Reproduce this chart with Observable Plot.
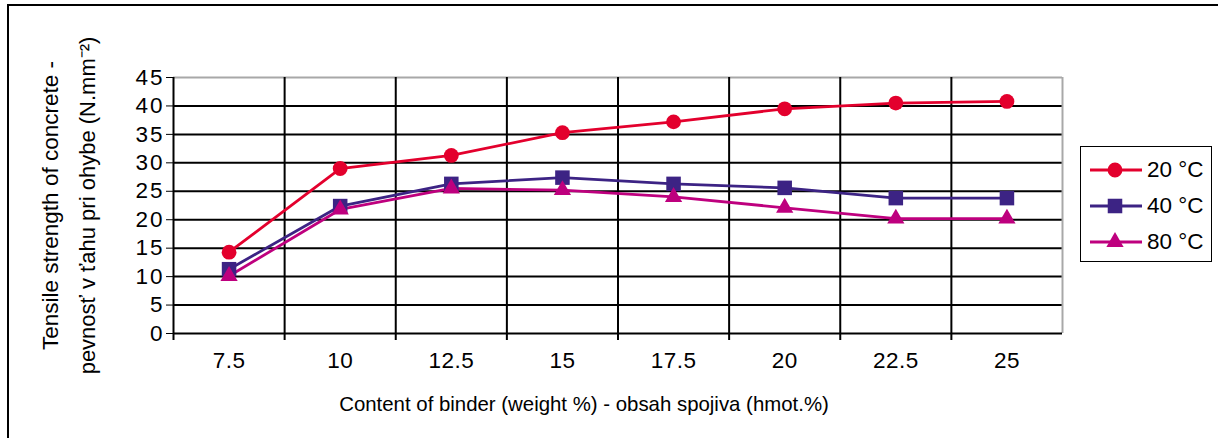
<!DOCTYPE html>
<html>
<head>
<meta charset="utf-8">
<script src="https://cdn.jsdelivr.net/npm/d3@7"></script>
<script src="https://cdn.jsdelivr.net/npm/@observablehq/plot@0.6"></script>
<style>
  body { margin: 0; background: #fff; }
  #wrap { position: relative; width: 1218px; height: 438px; overflow: hidden; font-family: "Liberation Sans", Arial, sans-serif; }
  #border { position: absolute; left: 7px; top: 4px; width: 1300px; height: 600px; border-top: 2px solid #000; border-left: 2px solid #000; }
  #legend { position: absolute; left: 1080px; top: 146px; width: 130px; height: 114px; border: 1.5px solid #000; background: #fff; }
  .row { position: absolute; left: 9px; height: 26px; display: flex; align-items: center; font-size: 22.5px; }
  .row svg { margin-right: 5px; }
  svg.plot { position: absolute; left: 0; top: 0; overflow: visible; }
</style>
</head>
<body>
<div id="wrap"><div id="border"></div></div>
<script>
const binder = [7.5, 10, 12.5, 15, 17.5, 20, 22.5, 25];
const s20 = [14.3, 29.0, 31.3, 35.3, 37.2, 39.5, 40.5, 40.8];
const s40 = [11.3, 22.4, 26.3, 27.4, 26.3, 25.6, 23.8, 23.8];
const s80 = [10.1, 21.8, 25.5, 25.2, 24.0, 22.1, 20.2, 20.2];
const seriesNames = ["20 °C", "40 °C", "80 °C"];
const colors = ["#e3002d", "#3c2384", "#be007e"];
const symbols = ["circle", "square", "triangle"];
const yTicks = [0, 5, 10, 15, 20, 25, 30, 35, 40, 45];
const yTitle1 = "Tensile strength of concrete -";
const yTitle2 = "pevnosť v ťahu pri ohybe (N.mm⁻²)";
const xTitle = "Content of binder (weight %) - obsah spojiva (hmot.%)";

const step = binder[1] - binder[0];
const xDomain = [binder[0] - step / 2, binder[binder.length - 1] + step / 2];
const bounds = binder.slice(1).map((v, i) => (v + binder[i]) / 2);

const rows = [];
[s20, s40, s80].forEach((s, k) => s.forEach((v, i) => rows.push({series: seriesNames[k], x: binder[i], y: v})));
const bySeries = name => rows.filter(d => d.series === name);

const rSizes = [7.4, 8.2, 6.4];

const marks = [
  Plot.ruleY(yTicks.filter(v => v > 0 && v < 45), {stroke: "#000", strokeWidth: 2}),
  Plot.ruleY([45], {stroke: "#a8a8a8", strokeWidth: 2}),
  Plot.ruleX([xDomain[1]], {stroke: "#a8a8a8", strokeWidth: 2}),
  Plot.ruleX(bounds, {stroke: "#000", strokeWidth: 2, insetBottom: -7}),
  Plot.ruleX([xDomain[0]], {stroke: "#000", strokeWidth: 2, insetBottom: -7}),
  Plot.ruleY([0], {stroke: "#000", strokeWidth: 2}),
  Plot.text(binder, {x: d => d, text: d => String(d), frameAnchor: "bottom", dy: 34, fontSize: 22.5}),
  Plot.text([xTitle], {text: d => d, frameAnchor: "bottom", dx: -34, dy: 77, fontSize: 20.4}),
  Plot.text([yTitle1], {text: d => d, frameAnchor: "left", textAnchor: "middle", dx: -123, rotate: -90, fontSize: 22.5}),
  Plot.text([yTitle2], {text: d => d, frameAnchor: "left", textAnchor: "middle", dx: -86, rotate: -90, fontSize: 22})
];
seriesNames.forEach((name, k) => {
  marks.push(Plot.line(bySeries(name), {x: "x", y: "y", stroke: colors[k], strokeWidth: 2.8}));
});
seriesNames.forEach((name, k) => {
  marks.push(Plot.dot(bySeries(name), {x: "x", y: "y", fill: colors[k], r: rSizes[k], symbol: symbols[k], stroke: "none"}));
});

const chart = Plot.plot({
  width: 1218,
  height: 438,
  marginLeft: 173,
  marginRight: 156,
  marginTop: 77,
  marginBottom: 105,
  style: {fontSize: "22.5px", fontFamily: "Liberation Sans, Arial, sans-serif", color: "#000", background: "transparent"},
  x: {domain: xDomain, axis: null},
  y: {domain: [0, 45], ticks: yTicks, tickSize: 7, tickPadding: 2, label: null, tickFormat: d => String(d)},
  marks
});
chart.classList.add("plot");
const yLabels = new Set(yTicks.map(String));
chart.querySelectorAll("text").forEach(t => {
  const s = t.textContent.trim();
  if (s.length > 4) return;
  const anchor = t.getAttribute("text-anchor") || (t.parentNode && t.parentNode.getAttribute && t.parentNode.getAttribute("text-anchor"));
  if (anchor === "end" && yLabels.has(s)) {
    t.style.letterSpacing = "2px";
  } else {
    t.style.letterSpacing = "0.5px";
  }
});
document.getElementById("wrap").appendChild(chart);

const legend = document.createElement("div");
legend.id = "legend";
seriesNames.forEach((name, k) => {
  const row = document.createElement("div");
  row.className = "row";
  row.style.top = (10 + k * 36) + "px";
  const sym = d3.symbol(k === 0 ? d3.symbolCircle : k === 1 ? d3.symbolSquare : d3.symbolTriangle, Math.PI * rSizes[k] * rSizes[k])();
  row.innerHTML = `<svg width="52" height="20"><line x1="0" x2="52" y1="10" y2="10" stroke="${colors[k]}" stroke-width="2.8"/><path d="${sym}" transform="translate(25,10)" fill="${colors[k]}"/></svg><span>${name}</span>`;
  legend.appendChild(row);
});
document.getElementById("wrap").appendChild(legend);
</script>
</body>
</html>
